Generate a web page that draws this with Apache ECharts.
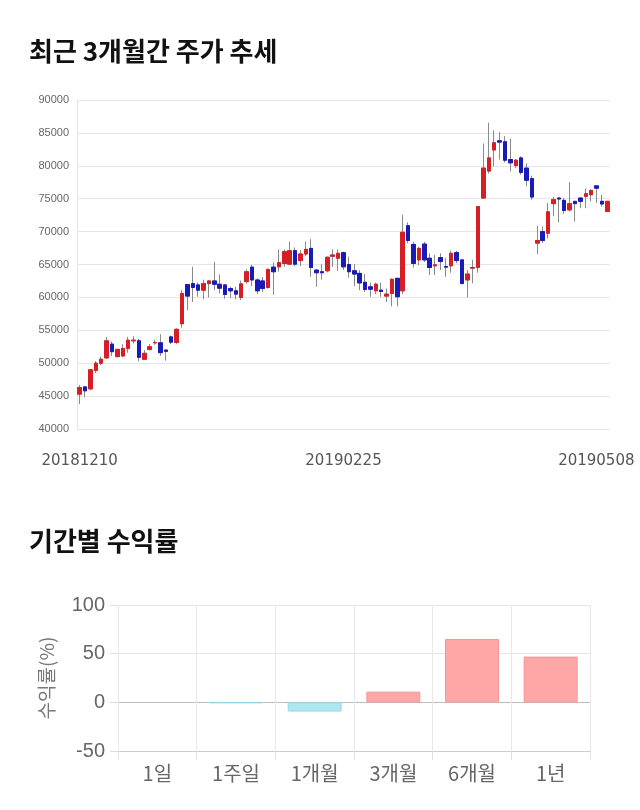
<!DOCTYPE html>
<html>
<head>
<meta charset="utf-8">
<script src="https://cdn.jsdelivr.net/npm/echarts@6/dist/echarts.min.js"></script>
<style>
html,body{margin:0;padding:0;background:#fff;}
#c{width:640px;height:810px;}
</style>
</head>
<body>
<div id="c"></div>
<script>
const dates = [
'20181210','20181211','20181212','20181213','20181214','20181217','20181218','20181219','20181220','20181221','20181224','20181226','20181227','20181228',
'20190102','20190103','20190104','20190107','20190108','20190109','20190110','20190111','20190114','20190115','20190116','20190117','20190118','20190121','20190122','20190123','20190124','20190125','20190128','20190129','20190130','20190131',
'20190201','20190207','20190208','20190211','20190212','20190213','20190214','20190215','20190218','20190219','20190220','20190221','20190222','20190225','20190226','20190227','20190228',
'20190304','20190305','20190306','20190307','20190308','20190311','20190312','20190313','20190314','20190315','20190318','20190319','20190320','20190321','20190322','20190325','20190326','20190327','20190328','20190329',
'20190401','20190402','20190403','20190404','20190405','20190408','20190409','20190410','20190411','20190412','20190415','20190416','20190417','20190418','20190419','20190422','20190423','20190424','20190425','20190426','20190429','20190430',
'20190502','20190503','20190507','20190508'
];
const openP = [45300,46400,46100,48900,50000,50800,52900,51000,51100,52250,53400,53400,50600,52100,53100,53100,52000,54000,53150,56000,
61950,62100,61900,61100,62100,62500,62000,61900,61350,61000,60000,62400,64600,62650,62500,61500,64600,64650,65150,65050,
67100,65600,66600,67450,64150,63900,64050,66250,65950,66800,65000,64050,63650,62300,61600,61000,61100,60200,60600,62900,
61000,70900,68050,65700,68100,65950,64800,66050,64700,64800,66800,65700,62650,64450,64550,75100,79200,82400,83800,83650,
80950,80050,81200,79650,78050,68250,70000,69750,74250,75100,74750,73300,74600,75100,75350,75600,76950,74600,73050];
const closeP = [46300,45800,49000,50000,50600,53400,51750,52100,52250,53500,53500,50900,51500,52500,53150,51600,51800,53200,55150,60600,
60200,61500,61100,62100,62500,62000,61400,60450,61000,60500,62050,63900,62650,61000,61350,64250,63900,65300,66950,67100,
65050,66600,67300,64550,63750,63750,66100,66450,66700,64650,63900,63550,62200,61200,61250,62000,60900,60500,62750,60100,
69900,68650,65150,67450,65700,64550,64950,65450,64600,66700,65600,62100,63550,64550,73800,79650,81200,83500,83600,80850,
80450,80850,79000,77800,75250,68650,68650,73000,74850,74950,73200,74250,74250,74600,75750,76250,76600,74200,74600];
const lowP = [43800,44800,45900,48500,49700,50700,51100,50900,50900,51600,53000,50300,50500,51900,52800,51100,50400,52900,52900,55400,
58050,59300,60100,59700,60000,61100,60600,59800,59900,59700,59600,62100,61700,60500,60800,61350,60400,63900,64650,64900,
64750,64750,66250,63150,61600,62700,63800,64650,64000,64150,63000,61700,61100,60800,60090,60500,60090,59300,58650,58650,
60500,68230,64550,64900,65400,63400,63400,64150,63150,63750,65200,62100,60000,62150,63750,74950,78800,79900,80950,80500,
79150,79650,78650,76900,74850,66600,68250,68950,72400,71400,72700,73050,71500,73550,73550,74600,74350,73800,73050];
const highP = [46700,46500,49100,50300,51000,54000,53300,52200,52900,54000,54100,53700,52000,52900,53500,54400,52100,54200,55300,61100,
62000,64650,62250,62700,62600,65400,63500,62000,61600,61600,62550,64250,64950,62900,63100,64400,65300,67300,67300,68500,
67600,67200,68500,68850,64300,65050,66200,67300,67300,66950,66200,65050,64150,63550,62250,62250,62250,61350,62900,62900,
72550,71400,68450,67700,68450,66700,66450,66700,65950,67100,67100,65700,64150,65700,73800,83400,86550,85400,85100,84500,
84100,81050,81450,80350,78500,70900,70800,74350,75250,75250,75100,77500,74600,75250,76550,76450,77000,75600,74600];
const yTicks = [40000, 90000, 5000];

const periods = ['1일','1주일','1개월','3개월','6개월','1년'];
const returns = [0, -0.8, -9.5, 11, 65, 47];

const wickData = dates.map((d,i)=>[openP[i], closeP[i], lowP[i], highP[i]]);
const bodyData = dates.map((d,i)=>[openP[i], closeP[i], Math.min(openP[i],closeP[i]), Math.max(openP[i],closeP[i])]);

const UP = '#d51f25', DOWN = '#1a1ab8';
const chart = echarts.init(document.getElementById('c'), null, {renderer:'canvas'});
const lastIdx = dates.length - 1;
chart.setOption({
  animation: false,
  backgroundColor: '#fff',
  title: [
    {text: '최근 3개월간 주가 추세', left: 29, top: 38, padding: 0,
     textStyle: {fontFamily: 'Noto Sans CJK KR', fontWeight: 'bold', fontSize: 26, color: '#111'}},
    {text: '기간별 수익률', left: 29, top: 528, padding: 0,
     textStyle: {fontFamily: 'Noto Sans CJK KR', fontWeight: 'bold', fontSize: 26, color: '#111'}}
  ],
  grid: [
    {left: 77, right: 30, top: 100, bottom: 381},
    {left: 118, right: 50, top: 605, bottom: 59}
  ],
  xAxis: [
    {type: 'category', gridIndex: 0, data: dates, boundaryGap: true,
     axisLine: {show: false}, axisTick: {show: false}, splitLine: {show: false},
     axisLabel: {interval: 48, margin: 25, fontFamily: 'DejaVu Sans', fontSize: 15, color: '#555',
       formatter: (v, i) => i === lastIdx ? '{r|' + v + '}' : v,
       rich: {r: {fontFamily: 'DejaVu Sans', fontSize: 15, color: '#555', padding: [0, 22, 0, 0]}}}},
    {type: 'category', gridIndex: 1, data: periods,
     axisLine: {show: true, onZero: false, lineStyle: {color: '#ccc'}},
     axisTick: {show: true, length: 9, lineStyle: {color: '#e3e3e3'}},
     splitLine: {show: true, lineStyle: {color: '#e8e8e8'}},
     axisLabel: {margin: 12, fontFamily: 'Noto Sans CJK KR', fontSize: 20, color: '#666'}}
  ],
  yAxis: [
    {type: 'value', gridIndex: 0, min: yTicks[0], max: yTicks[1], interval: yTicks[2],
     axisLine: {show: true, lineStyle: {color: '#e6e6e6'}}, axisTick: {show: false},
     splitLine: {lineStyle: {color: '#e6e6e6'}},
     axisLabel: {margin: 8, fontFamily: 'Liberation Sans', fontSize: 11, color: '#666',
       formatter: v => String(v)}},
    {type: 'value', gridIndex: 1, min: -50, max: 100, interval: 50,
     name: '수익률(%)', nameLocation: 'middle', nameRotate: 90, nameGap: 62,
     nameTextStyle: {fontFamily: 'Noto Sans CJK KR', fontSize: 19, color: '#777'},
     axisLine: {show: false}, axisTick: {show: true, length: 8, lineStyle: {color: '#ddd'}},
     splitLine: {lineStyle: {color: ['#d8d8d8', '#bdbdbd', '#e6e6e6', '#e6e6e6']}},
     axisLabel: {margin: 13, fontFamily: 'Liberation Sans', fontSize: 20, color: '#666'}}
  ],
  series: [
    {type: 'candlestick', xAxisIndex: 0, yAxisIndex: 0, data: wickData, barWidth: 4,
     itemStyle: {color: UP, color0: DOWN, borderColor: '#8a8a8a', borderColor0: '#8a8a8a', borderWidth: 1}},
    {type: 'candlestick', xAxisIndex: 0, yAxisIndex: 0, data: bodyData, barWidth: 4,
     itemStyle: {color: UP, color0: DOWN, borderColor: UP, borderColor0: DOWN, borderWidth: 1}},
    {type: 'bar', xAxisIndex: 1, yAxisIndex: 1, barWidth: 54,
     data: returns.map(v => ({value: v, itemStyle: v > 0
       ? {color: '#ffa7a7', borderColor: '#f39797', borderWidth: 1}
       : v < 0 ? {color: '#aee7f2', borderColor: '#97d8e6', borderWidth: 1}
       : {color: 'transparent', borderWidth: 0}}))}
  ]
});
</script>
</body>
</html>
